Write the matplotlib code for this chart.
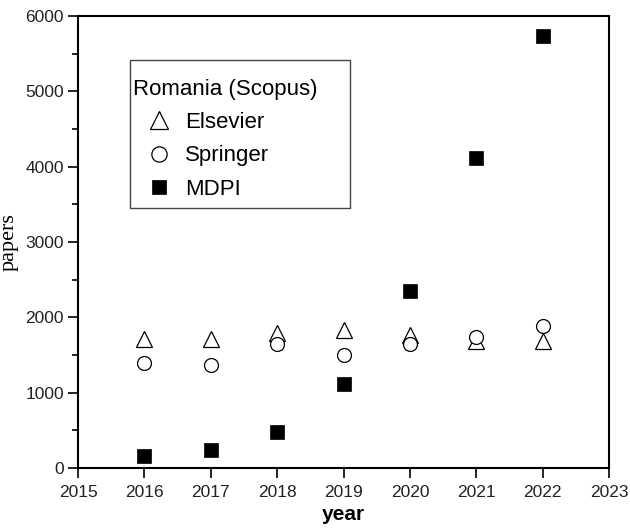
import numpy as np
import matplotlib
matplotlib.use("Agg")
import matplotlib.pyplot as plt
from matplotlib.patches import Rectangle
from matplotlib.ticker import MultipleLocator

# data
years = [2016, 2017, 2018, 2019, 2020, 2021, 2022]
elsevier = [1715, 1715, 1790, 1835, 1765, 1680, 1690]
springer = [1400, 1370, 1645, 1500, 1645, 1740, 1880]
mdpi = [160, 235, 475, 1115, 2350, 4120, 5740]

plt.rcParams['font.family'] = ['Liberation Sans', 'DejaVu Sans']

fig = plt.figure(figsize=(6.3, 5.3), dpi=100)
ax = fig.add_axes([78/630, 1 - 468/530, (609 - 78)/630, (468 - 16)/530])

ax.plot(years, elsevier, linestyle="none", marker="^", markersize=11.5,
        markerfacecolor="white", markeredgecolor="black", markeredgewidth=0.9,
        label="Elsevier")
ax.plot(years, springer, linestyle="none", marker="o", markersize=10,
        markerfacecolor="white", markeredgecolor="black", markeredgewidth=0.9,
        label="Springer")
ax.plot(years, mdpi, linestyle="none", marker="s", markersize=9.5,
        markerfacecolor="black", markeredgecolor="black", markeredgewidth=0.5,
        label="MDPI")

ax.set_xlim(2015, 2023)
ax.set_ylim(0, 6000)
ax.set_xticks(np.arange(2015, 2024))
ax.set_yticks(np.arange(0, 6001, 1000))
ax.yaxis.set_minor_locator(MultipleLocator(500))

for s in ax.spines.values():
    s.set_linewidth(1.5)
ax.tick_params(axis="both", which="major", direction="out", length=7,
               width=1.2, labelsize=12.5, colors="black", pad=3)
ax.tick_params(axis="x", pad=5)
ax.tick_params(axis="y", which="minor", direction="out", length=4, width=1.2)
for lab in ax.get_xticklabels() + ax.get_yticklabels():
    lab.set_color("#222222")

ax.set_xlabel("year", fontsize=15, fontweight="bold", labelpad=4)
ax.set_ylabel("papers", fontsize=16, family=["Liberation Serif", "DejaVu Serif"])
ax.yaxis.set_label_coords(-(78 - 19)/531, 0.5)

leg = ax.legend(title="Romania (Scopus)", loc="upper left",
                bbox_to_anchor=(133/630, 1 - 79/530), bbox_transform=fig.transFigure,
                frameon=False, fontsize=16, title_fontsize=16, alignment="left",
                borderpad=0, borderaxespad=0, handlelength=2.35, handletextpad=0.0,
                labelspacing=0.55, markerscale=1.1)

fig.patches.append(Rectangle((130/630, 1 - 208/530), 220/630, 148/530,
                             transform=fig.transFigure, fill=False,
                             edgecolor="#444444", linewidth=1.0))

fig.savefig("out.png", dpi=100)
